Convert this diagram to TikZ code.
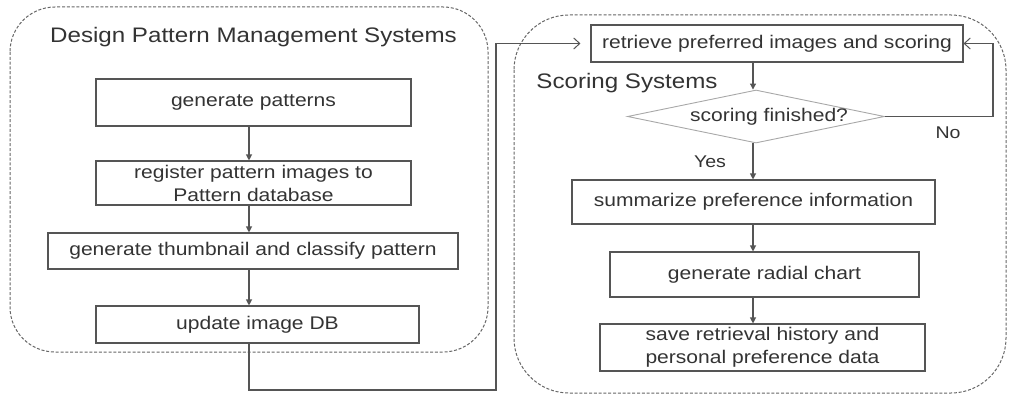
\documentclass[tikz,border=0pt]{standalone}
\usepackage{fontspec}
\newfontfamily\gfont{Liberation Sans}[FakeStretch=1.15]
\usetikzlibrary{shapes.geometric,arrows.meta}
\definecolor{txt}{HTML}{333333}
\definecolor{edge}{HTML}{555555}
\definecolor{frame}{HTML}{666666}
\definecolor{dia}{HTML}{A8A8A8}
\begin{document}
\begin{tikzpicture}[x=1pt,y=-1pt,
  every node/.style={text=txt},
  box/.style={draw=edge,line width=1.1pt,rectangle,inner sep=0pt,align=center,
     font=\gfont\fontsize{18.3}{23}\selectfont},
  title/.style={font=\gfont\fontsize{21}{24}\selectfont,inner sep=0pt},
  lbl/.style={font=\gfont\fontsize{17}{20}\selectfont,inner sep=0pt},
  frm/.style={draw=frame,line width=1pt,dash pattern=on 3pt off 1.8pt},
  arr/.style={draw=edge,line width=1.1pt,-{Triangle[length=6pt,width=6pt]}},
  open/.style={draw=edge,line width=1.1pt,-{Straight Barb[length=6pt,width=11pt,line width=1pt]}}]
\useasboundingbox (0,0) rectangle (1009,396);
% frames
\draw[frm,rounded corners=45pt] (10,7) rectangle (488,352);
\draw[frm,rounded corners=55pt] (514,15) rectangle (1006,393);
\node[title] (t1) at (253.5,37) {Design Pattern Management Systems};
\node[title] (t2) at (627,83) {Scoring Systems};
% left flow
\node[box,minimum width=315pt,minimum height=47pt] (n1) at (253.5,102.5) {generate patterns};
\node[box,minimum width=315pt,minimum height=44pt] (n2) at (253.5,183) {register pattern images to\\Pattern database};
\node[box,minimum width=410pt,minimum height=36pt] (n3) at (253,251) {generate thumbnail and classify pattern};
\node[box,minimum width=323pt,minimum height=37pt] (n4) at (257.5,324.5) {update image DB};
\coordinate (lx) at (249,0);
\draw[arr] (n1.south -| lx) -- (n2.north -| lx);
\draw[arr] (n2.south -| lx) -- (n3.north -| lx);
\draw[arr] (n3.south -| lx) -- (n4.north -| lx);
% right flow
\node[box,minimum width=372pt,minimum height=37pt] (r1) at (777,43.5) {retrieve preferred images and scoring};
\node[draw=dia,line width=0.9pt,diamond,aspect=5,inner sep=0pt,minimum width=257pt,minimum height=53pt] (d) at (756,116.5) {};
\node[font=\gfont\fontsize{18.3}{23}\selectfont,inner sep=0pt] (dt) at (769,117) {scoring finished?};
\node[box,minimum width=363pt,minimum height=44pt] (s1) at (753.5,202) {summarize preference information};
\node[box,minimum width=309pt,minimum height=45pt] (s2) at (764.5,274.5) {generate radial chart};
\node[box,minimum width=325pt,minimum height=47pt] (s3) at (762.5,347.5) {save retrieval history and\\personal preference data};
\coordinate (rx) at (753,0);
\draw[arr] (r1.south -| rx) -- (d.north -| rx);
\draw[arr] (d.south -| rx) -- (s1.north -| rx);
\draw[arr] (s1.south -| rx) -- (s2.north -| rx);
\draw[arr] (s2.south -| rx) -- (s3.north -| rx);
\node[lbl] (yes) at (710,162) {Yes};
\node[lbl] (no) at (948,133) {No};
% loops
\coordinate (c1) at (249,390);
\coordinate (c2) at (496,390);
\coordinate (c3) at (993,116.5);
\draw[open,shorten >=10pt] (n4.south -| lx) -- (c1) -- (c2) |- (r1.west);
\draw[open] (d.east) -- (c3) |- (r1.east);
\end{tikzpicture}
\end{document}
